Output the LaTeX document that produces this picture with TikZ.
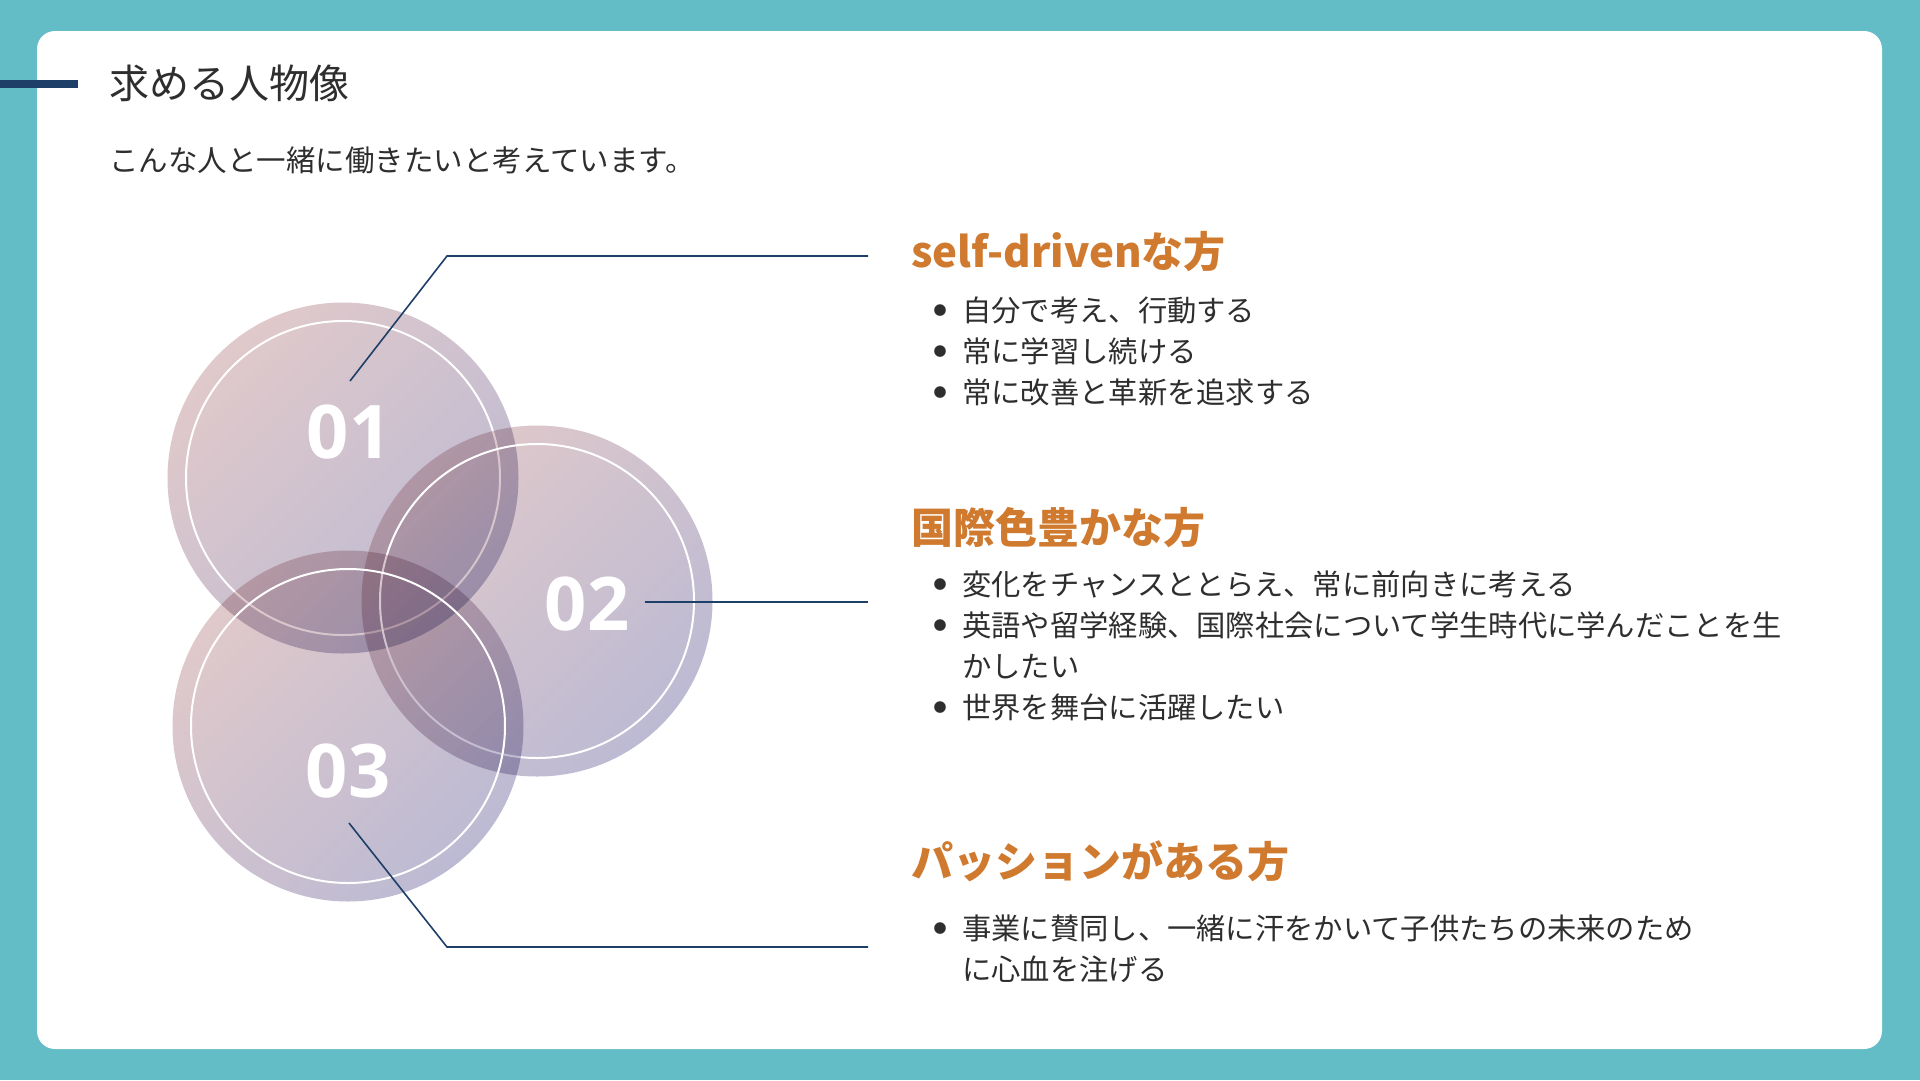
\documentclass[tikz,border=0pt]{standalone}
\usepackage{fontspec}
\setmainfont{Noto Sans CJK JP}
\newfontfamily\numfont{Open Sans}
\usepackage{tikz}
\usetikzlibrary{positioning}

\definecolor{teal}{HTML}{63BDC6}
\definecolor{navy}{HTML}{1D3F68}
\definecolor{heading}{HTML}{CF7A2F}
\definecolor{ink}{HTML}{2E2E2E}
\definecolor{orbtop}{HTML}{E0C9CA}
\definecolor{orbmid}{HTML}{D3BCD0}
\definecolor{orbbot}{HTML}{BCBAD3}

% bullet mark, centred at 8pt from the line start
\newcommand{\dotmark}{\hspace*{8pt}\makebox[0pt]{\raisebox{6pt}{\fontsize{13}{13}\selectfont ●}}}

\begin{document}
\begin{tikzpicture}[
    x=1pt, y=-1pt,
    orb/.style={circle, minimum size=351pt, inner sep=0pt,
                top color=orbtop, middle color=orbmid, bottom color=orbbot,
                shading angle=45},
    ring/.style={draw=white, line width=2pt},
    num/.style={font=\numfont\bfseries\fontsize{74}{74}\selectfont, text=white},
    lead/.style={navy, line width=1.6pt},
    head/.style={font=\bfseries\fontsize{42}{50}\selectfont, text=heading,
                 anchor=west, inner sep=0pt},
    body/.style={font=\fontsize{29.3}{41}\selectfont, text=ink,
                 anchor=west, inner sep=0pt, align=left},
  ]

  % ---------- page ----------
  \useasboundingbox (0,0) rectangle (1920,1080);
  \fill[teal] (0,0) rectangle (1920,1080);
  \fill[white, rounded corners=18pt] (37,31) rectangle (1882,1049);

  % ---------- title ----------
  \draw[navy, line width=8pt] (0,84) -- (78,84);
  \node[anchor=west, inner sep=0pt, text=ink,
        font=\fontsize{40}{48}\selectfont] (title) at (109,83) {求める人物像};
  \node[anchor=west, inner sep=0pt, text=ink,
        font=\fontsize{29.5}{35}\selectfont] (sub) at (109,160)
    {こんな人と一緒に働きたいと考えています。};

  % ---------- overlapping circles (multiplied) ----------
  \begin{scope}[blend mode=multiply]
    \node[orb] (c1) at (343,478) {};
  \end{scope}
  \draw[ring] (c1.center) circle (157);
  \begin{scope}[blend mode=multiply]
    \node[orb] (c2) at (537,601) {};
  \end{scope}
  \draw[ring] (c2.center) circle (157);
  \begin{scope}[blend mode=multiply]
    \node[orb] (c3) at (348,726) {};
  \end{scope}
  \draw[ring] (c3.center) circle (157);

  \node[num] (n1) at (349,432) {01};
  \node[num] (n2) at (587,604) {02};
  \node[num] (n3) at (348,771) {03};

  % ---------- leader lines ----------
  \coordinate (p1) at (350,381);
  \coordinate (k1) at (447,256);
  \coordinate (e1) at (868,256);
  \coordinate (p2) at (645,602);
  \coordinate (e2) at (868,602);
  \coordinate (p3) at (349,823);
  \coordinate (k3) at (447,947);
  \coordinate (e3) at (868,947);
  \draw[lead] (p1) -- (k1) -- (e1);
  \draw[lead] (p2) -- (e2);
  \draw[lead] (p3) -- (k3) -- (e3);

  % ---------- headings ----------
  \node[head] (h1) at (911,252) {self-drivenな方};
  \node[head] (h2) at (911,528) {国際色豊かな方};
  \node[head] (h3) at (911,861) {パッションがある方};

  % ---------- bullet lists ----------
  \node[body] (b1) at (932,354) {\begin{tabular}{@{}p{30pt}@{}l@{}}
    \dotmark & 自分で考え、行動する\\
    \dotmark & 常に学習し続ける\\
    \dotmark & 常に改善と革新を追求する
  \end{tabular}};
  \node[body] (b2) at (932,649) {\begin{tabular}{@{}p{30pt}@{}l@{}}
    \dotmark & 変化をチャンスととらえ、常に前向きに考える\\
    \dotmark & 英語や留学経験、国際社会について学生時代に学んだことを生\\
      & かしたい\\
    \dotmark & 世界を舞台に活躍したい
  \end{tabular}};
  \node[body] (b3) at (932,952) {\begin{tabular}{@{}p{30pt}@{}l@{}}
    \dotmark & 事業に賛同し、一緒に汗をかいて子供たちの未来のため\\
      & に心血を注げる
  \end{tabular}};

\end{tikzpicture}
\end{document}
